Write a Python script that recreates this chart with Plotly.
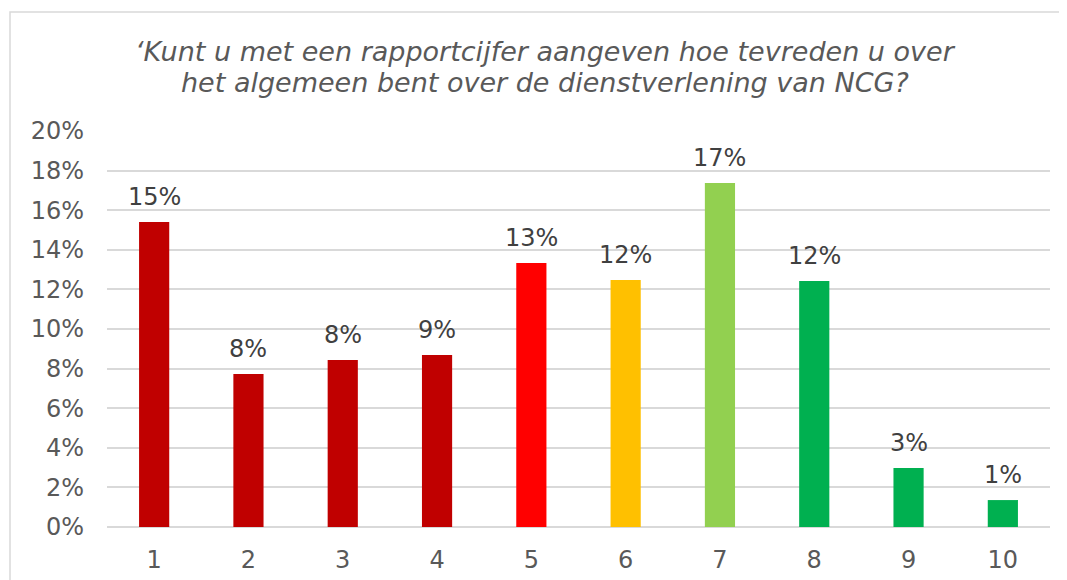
import plotly.graph_objects as go

# rapportcijfer 1..10, share of respondents
cijfers = ["1", "2", "3", "4", "5", "6", "7", "8", "9", "10"]
aandeel = [0.154, 0.0773, 0.0843, 0.0869, 0.1333, 0.1247, 0.1737, 0.1242, 0.0298, 0.0136]
kleuren = ["#C00000", "#C00000", "#C00000", "#C00000", "#FF0000",
           "#FFC000", "#92D050", "#00B050", "#00B050", "#00B050"]
titel_regels = [
    "‘Kunt u met een rapportcijfer aangeven hoe tevreden u over",
    "het algemeen bent over de dienstverlening van NCG?",
]

# the page body has an 8px margin, so the figure is drawn 8px in
OFF = 8
W, H = 1067 - OFF, 580 - OFF
L, R, T, B = 107 - OFF, 17, 131 - OFF, 53
pw, ph = W - L - R, H - T - B


def px_x(p):  # page pixel -> paper x
    return (p - OFF - L) / pw


def px_y(p):  # page pixel -> paper y
    return (T + ph - (p - OFF)) / ph


fig = go.Figure()
fig.add_trace(go.Bar(
    x=cijfers,
    y=aandeel,
    marker=dict(color=kleuren, line=dict(width=0)),
    width=0.32,
    hoverinfo="skip",
))

# data labels above bars
for i, v in enumerate(aandeel):
    fig.add_annotation(
        x=i, y=v, text=f"{round(v * 100):.0f}%",
        showarrow=False, yanchor="bottom", yshift=9,
        font=dict(size=24, color="#404040"),
    )

# two-line title, tighter line spacing than plotly's default
for regel, yc in zip(titel_regels, [51, 82]):
    fig.add_annotation(
        text=regel, xref="paper", yref="paper",
        x=px_x(545), y=px_y(yc), xanchor="center", yanchor="middle",
        showarrow=False,
        font=dict(size=27, color="#595959", style="italic"),
    )

# chart border (cropped at right and bottom like the original)
fig.add_shape(
    type="rect", xref="paper", yref="paper",
    x0=px_x(10), x1=px_x(1080),
    y0=px_y(595), y1=px_y(12),
    line=dict(color="#d9d9d9", width=1.5),
    fillcolor="rgba(0,0,0,0)",
)

fig.update_layout(
    width=W, height=H,
    margin=dict(l=L, r=R, t=T, b=B),
    paper_bgcolor="white",
    plot_bgcolor="white",
    font=dict(family="DejaVu Sans", color="#595959"),
    showlegend=False,
    bargap=0.68,
)
fig.update_xaxes(
    showgrid=False, showline=False, ticks="",
    tickfont=dict(size=24, color="#595959"),
    ticklabelstandoff=16, automargin=False,
)
fig.update_yaxes(
    range=[0, 0.2], dtick=0.02, tickformat=".0%",
    showgrid=True, gridcolor="#d9d9d9", gridwidth=1.5,
    zeroline=True, zerolinecolor="#d9d9d9", zerolinewidth=1.5,
    showline=False, ticks="",
    tickfont=dict(size=24, color="#595959"),
    ticklabelstandoff=22, automargin=False,
)

fig.write_html("out.html")
